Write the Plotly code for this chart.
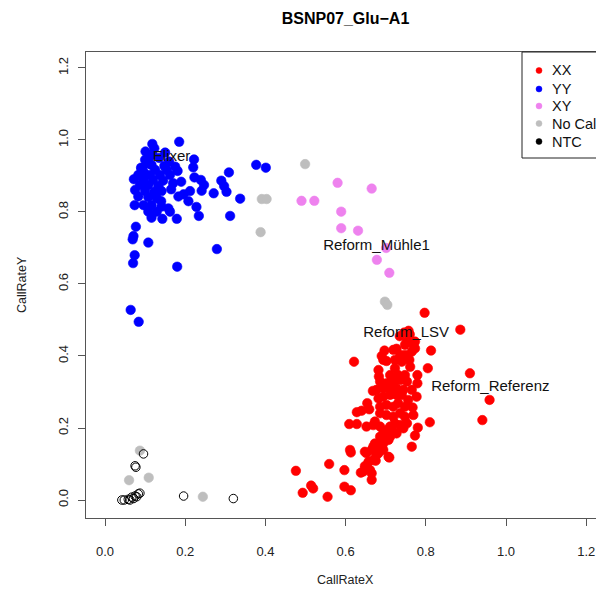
import plotly.graph_objects as go

# ---------------- data ----------------
yy_x = [0.185, 0.118, 0.101, 0.222, 0.377, 0.401, 0.220, 0.309, 0.091, 0.223, 0.072, 0.190, 0.239, 0.290,
        0.247, 0.297, 0.165, 0.212, 0.241, 0.271, 0.303, 0.196, 0.183, 0.337, 0.208, 0.074, 0.228, 0.234,
        0.312, 0.179, 0.116, 0.143, 0.077, 0.071, 0.069, 0.108, 0.279, 0.074, 0.070, 0.180, 0.064, 0.084,
        0.123, 0.112, 0.105, 0.090, 0.116, 0.148, 0.175, 0.096, 0.125, 0.154, 0.181, 0.083, 0.112, 0.137,
        0.162, 0.096, 0.120, 0.145, 0.087, 0.108, 0.133, 0.075, 0.100, 0.123, 0.141, 0.083, 0.108, 0.129,
        0.096, 0.116, 0.141, 0.162, 0.108, 0.129, 0.150, 0.135, 0.160, 0.170, 0.100, 0.140, 0.158, 0.118]
yy_y = [0.995, 0.989, 0.968, 0.946, 0.931, 0.923, 0.924, 0.910, 0.921, 0.896, 0.891, 0.884, 0.889, 0.887,
        0.875, 0.872, 0.863, 0.858, 0.859, 0.852, 0.856, 0.849, 0.843, 0.837, 0.830, 0.819, 0.814, 0.789,
        0.789, 0.781, 0.784, 0.781, 0.759, 0.733, 0.724, 0.715, 0.697, 0.680, 0.658, 0.648, 0.528, 0.495,
        0.977, 0.954, 0.935, 0.923, 0.931, 0.928, 0.926, 0.912, 0.917, 0.917, 0.914, 0.903, 0.903, 0.903,
        0.903, 0.889, 0.889, 0.887, 0.875, 0.875, 0.872, 0.861, 0.858, 0.856, 0.858, 0.843, 0.841, 0.838,
        0.819, 0.819, 0.815, 0.801, 0.801, 0.801, 0.965, 0.950, 0.940, 0.880, 0.945, 0.830, 0.810, 0.960]

xy_x = [0.580, 0.665, 0.490, 0.522, 0.589, 0.589, 0.631, 0.678, 0.709, 0.701]
xy_y = [0.881, 0.865, 0.831, 0.831, 0.801, 0.755, 0.748, 0.667, 0.631, 0.700]

nocall_x = [0.499, 0.391, 0.403, 0.388, 0.698, 0.704, 0.087, 0.060, 0.109, 0.244]
nocall_y = [0.933, 0.836, 0.836, 0.744, 0.551, 0.542, 0.137, 0.055, 0.062, 0.009]

ntc_x = [0.096, 0.075, 0.077, 0.196, 0.320, 0.042, 0.048, 0.058, 0.067, 0.075, 0.083, 0.062, 0.071, 0.079, 0.087]
ntc_y = [0.128, 0.095, 0.091, 0.011, 0.004, 0.000, 0.000, 0.002, 0.008, 0.011, 0.017, 0.000, 0.004, 0.009, 0.019]

xx_x = [0.797, 0.886, 0.746, 0.910, 0.959, 0.941, 0.621, 0.813, 0.805, 0.810, 0.476, 0.493, 0.514, 0.519,
        0.555, 0.559, 0.597, 0.597, 0.613, 0.638, 0.665, 0.611, 0.613, 0.609, 0.628, 0.628, 0.640, 0.654,
        0.659, 0.668, 0.682, 0.683, 0.690, 0.697, 0.702, 0.719, 0.727, 0.748, 0.769, 0.773, 0.759, 0.761,
        0.723, 0.779, 0.779, 0.777, 0.767, 0.769, 0.780, 0.773, 0.765, 0.707, 0.727, 0.702, 0.707, 0.686,
        0.673, 0.665, 0.652, 0.677, 0.657, 0.648, 0.686, 0.673, 0.686, 0.702, 0.719, 0.736, 0.748, 0.686,
        0.702, 0.719, 0.731, 0.748, 0.756, 0.682, 0.694, 0.711, 0.727, 0.740, 0.677, 0.694, 0.711, 0.727,
        0.744, 0.765, 0.686, 0.702, 0.719, 0.736, 0.753, 0.711, 0.731, 0.748, 0.740, 0.723, 0.748, 0.765,
        0.736, 0.753, 0.773, 0.694, 0.723, 0.736, 0.744, 0.711, 0.719, 0.711, 0.694, 0.694, 0.686, 0.669,
        0.694, 0.698, 0.682, 0.669, 0.644, 0.661, 0.709, 0.665, 0.675, 0.648, 0.652, 0.669, 0.753, 0.760,
        0.735, 0.757]
xx_y = [0.520, 0.473, 0.465, 0.352, 0.278, 0.222, 0.384, 0.415, 0.366, 0.216, 0.081, 0.020, 0.040, 0.032,
        0.009, 0.100, 0.083, 0.037, 0.027, 0.076, 0.074, 0.139, 0.132, 0.211, 0.211, 0.244, 0.248, 0.269,
        0.252, 0.303, 0.361, 0.343, 0.400, 0.415, 0.386, 0.417, 0.420, 0.431, 0.431, 0.421, 0.389, 0.370,
        0.366, 0.347, 0.324, 0.287, 0.257, 0.236, 0.201, 0.179, 0.148, 0.120, 0.185, 0.194, 0.167, 0.176,
        0.157, 0.139, 0.130, 0.125, 0.106, 0.094, 0.204, 0.218, 0.241, 0.236, 0.231, 0.241, 0.231, 0.259,
        0.264, 0.259, 0.269, 0.259, 0.278, 0.282, 0.287, 0.292, 0.292, 0.292, 0.306, 0.310, 0.306, 0.310,
        0.306, 0.306, 0.329, 0.324, 0.329, 0.333, 0.329, 0.347, 0.347, 0.347, 0.384, 0.389, 0.403, 0.412,
        0.403, 0.440, 0.440, 0.389, 0.213, 0.208, 0.199, 0.204, 0.190, 0.176, 0.185, 0.157, 0.148, 0.148,
        0.139, 0.167, 0.130, 0.111, 0.079, 0.083, 0.118, 0.056, 0.109, 0.134, 0.204, 0.208, 0.213, 0.460,
        0.455, 0.470]

label_text = ["Elixer", "Reform_Mühle1", "Reform_LSV", "Reform_Referenz"]
label_x = [0.166, 0.677, 0.751, 0.961]
label_y = [0.953, 0.706, 0.464, 0.314]

tick_vals = [0.0, 0.2, 0.4, 0.6, 0.8, 1.0, 1.2]
tick_text = ["0.0", "0.2", "0.4", "0.6", "0.8", "1.0", "1.2"]

legend_names = ["XX", "YY", "XY", "No Cal", "NTC"]
legend_colors = ["#FF0000", "#0000FF", "#EE82EE", "#BEBEBE", "#000000"]

FONT = "Liberation Sans, Arial, sans-serif"

W, H = 596, 590
ML, MT, MB = 86, 52, 72
PW, PH = W - ML, H - MT - MB   # 510 x 466


def px_x(page_x):
    return (page_x - ML) / PW


def px_y(page_y):
    return (H - MB - page_y) / PH


fig = go.Figure()


def pts(x, y, color, name):
    fig.add_trace(go.Scatter(x=x, y=y, mode="markers", name=name, showlegend=False,
                             marker=dict(size=9.5, color=color, line=dict(width=0.6, color=color))))


pts(xx_x, xx_y, legend_colors[0], "XX")
pts(yy_x, yy_y, legend_colors[1], "YY")
pts(xy_x, xy_y, legend_colors[2], "XY")
pts(nocall_x, nocall_y, legend_colors[3], "No Cal")
fig.add_trace(go.Scatter(x=ntc_x, y=ntc_y, mode="markers", name="NTC", showlegend=False,
                         marker=dict(size=8.5, color="rgba(255,255,255,0)", line=dict(width=1, color="#000000"))))

fig.add_trace(go.Scatter(x=label_x, y=label_y, mode="text", text=label_text, showlegend=False,
                         textposition="middle center", cliponaxis=False,
                         textfont=dict(size=15, color="#111111", family=FONT)))

# legend box (R style, top-right of plot region)
fig.add_shape(type="rect", xref="paper", yref="paper", x0=px_x(522), x1=1.2, y0=px_y(158), y1=1.0,
              line=dict(color="#222222", width=1), fillcolor="rgba(0,0,0,0)", layer="above")
legend_rows = [70.5, 89, 106, 123.5, 141.5]
for n, c, ry in zip(legend_names, legend_colors, legend_rows):
    fig.add_shape(type="circle", xref="paper", yref="paper", xsizemode="pixel", ysizemode="pixel",
                  xanchor=px_x(539), yanchor=px_y(ry), x0=-3, x1=3, y0=-3, y1=3,
                  fillcolor=c, line=dict(color=c, width=0.5))
    fig.add_annotation(text=n, xref="paper", yref="paper", x=px_x(550), y=px_y(ry),
                       xanchor="left", yanchor="middle", showarrow=False,
                       font=dict(size=14.5, color="#111111", family=FONT))

# axis titles
fig.add_annotation(text="CallRateX", xref="paper", yref="paper", x=px_x(345), y=px_y(580),
                   xanchor="center", yanchor="middle", showarrow=False,
                   font=dict(size=12.5, color="#222222", family=FONT))
fig.add_annotation(text="CallRateY", xref="paper", yref="paper", x=px_x(22), y=px_y(285),
                   xanchor="center", yanchor="middle", showarrow=False, textangle=-90,
                   font=dict(size=12.5, color="#222222", family=FONT))

fig.update_layout(
    width=W, height=H,
    margin=dict(l=ML, r=0, t=MT, b=MB, pad=0, autoexpand=False),
    paper_bgcolor="white", plot_bgcolor="white",
    font=dict(family=FONT, size=13, color="#222222"),
    title=dict(text="<b>BSNP07_Glu\u2212A1</b>", x=345.5 / W, xanchor="center", xref="container",
               y=1 - 18 / H, yanchor="middle", yref="container",
               font=dict(size=16, color="#000000", family=FONT)),
    showlegend=False,
    hovermode=False,
    xaxis=dict(range=[-0.0474, 1.2244], tickvals=tick_vals, ticktext=tick_text, showgrid=False,
               zeroline=False, showline=True, linecolor="#555555", linewidth=1, mirror=True,
               ticks="outside", ticklen=7, tickcolor="#555555", ticklabelstandoff=14,
               ticklabeloverflow="allow", automargin=False, tickfont=dict(size=13)),
    yaxis=dict(range=[-0.05, 1.2444], tickvals=tick_vals, ticktext=tick_text, showgrid=False,
               zeroline=False, showline=True, linecolor="#555555", linewidth=1, mirror=False,
               ticks="outside", ticklen=7, tickcolor="#555555", tickangle=-90, ticklabelstandoff=5,
               automargin=False, tickfont=dict(size=13)),
)

fig.write_html(
    "out.html",
    config={"displayModeBar": False, "staticPlot": True},
    post_script="document.body.style.margin='0';document.body.style.overflow='hidden';"
                "document.documentElement.style.overflow='hidden';",
)
